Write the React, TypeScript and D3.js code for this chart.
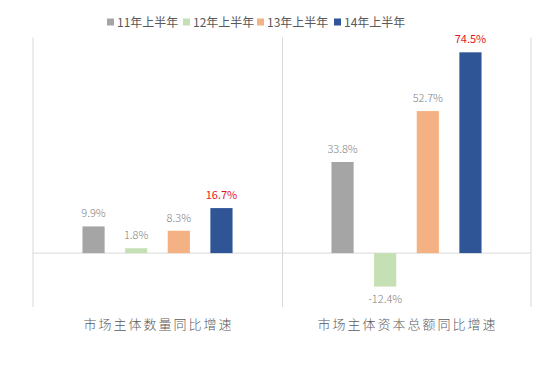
import React from "react";
import * as d3 from "d3";

const categories = ["市场主体数量同比增速", "市场主体资本总额同比增速"];
const seriesNames = ["11年上半年", "12年上半年", "13年上半年", "14年上半年"];
const seriesColors = ["#a5a5a5", "#c5e0b4", "#f4b183", "#2f5597"];
const values: number[][] = [
  [9.9, 33.8],
  [1.8, -12.4],
  [8.3, 52.7],
  [16.7, 74.5],
];
const labelColors = ["#7f7f7f", "#7f7f7f", "#7f7f7f", "#e8141c"];
const yDomain = [-20, 80];

const W = 554;
const H = 378;
const FONT = "'Noto Sans CJK SC', 'Microsoft YaHei', sans-serif";

export default function App() {
  const x0 = d3.scaleBand<string>().domain(categories).range([33, 531]).padding(0);
  const x1 = d3
    .scaleBand<string>()
    .domain(seriesNames)
    .range([0, x0.bandwidth()])
    .paddingInner(0.48)
    .paddingOuter(1.16);
  const y = d3.scaleLinear().domain(yDomain).range([307, 37.5]);
  const zero = y(0);
  const bounds = [33, 282.5, 531];

  const legendX = [107, 183, 257, 334];

  return (
    <svg width={W} height={H} style={{ position: "absolute", left: 0, top: 0, background: "#fff" }}>
      {bounds.map((bx, i) => (
        <line key={i} x1={bx} x2={bx} y1={y(yDomain[1])} y2={y(yDomain[0])} stroke="#d9d9d9" strokeWidth={1} />
      ))}
      <line x1={33} x2={531} y1={zero} y2={zero} stroke="#d9d9d9" strokeWidth={1} />
      {categories.map((c, ci) =>
        seriesNames.map((s, si) => {
          const v = values[si][ci];
          const bx = (x0(c) ?? 0) + (x1(s) ?? 0);
          const top = y(Math.max(0, v));
          const bottom = y(Math.min(0, v));
          return (
            <g key={c + s}>
              <rect x={bx} y={top} width={x1.bandwidth()} height={bottom - top} fill={seriesColors[si]} />
              <text
                x={bx + x1.bandwidth() / 2}
                y={v >= 0 ? top - 9 : bottom + 16}
                textAnchor="middle"
                fontSize={11}
                fontWeight={si === 3 ? 400 : 300}
                fontFamily={FONT}
                fill={labelColors[si]}
              >
                {v.toFixed(1)}%
              </text>
            </g>
          );
        })
      )}
      {categories.map((c) => (
        <text
          key={c}
          x={(x0(c) ?? 0) + x0.bandwidth() / 2 + 1}
          y={329}
          textAnchor="middle"
          fontSize={13}
          fontWeight={300}
          letterSpacing={2}
          fontFamily={FONT}
          fill="#595959"
        >
          {c}
        </text>
      ))}
      {seriesNames.map((s, i) => (
        <g key={s}>
          <rect x={legendX[i]} y={18.5} width={7} height={7} fill={seriesColors[i]} />
          <text x={legendX[i] + 10} y={26.5} fontSize={12} fontWeight={400} fontFamily={FONT} fill="#595959">
            {s}
          </text>
        </g>
      ))}
    </svg>
  );
}
